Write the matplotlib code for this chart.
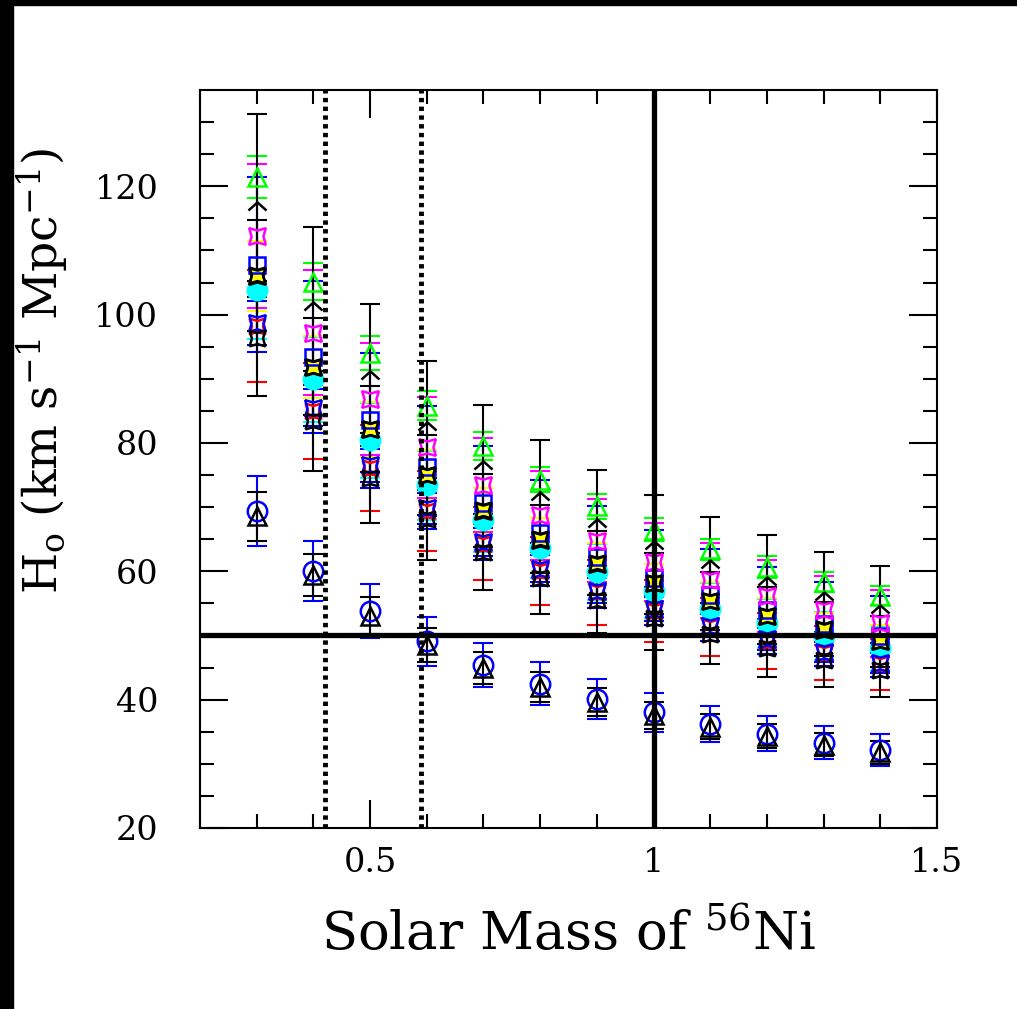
import matplotlib
matplotlib.use("Agg")
import matplotlib.pyplot as plt
from matplotlib.path import Path
from matplotlib.patches import Rectangle

# Solar mass of 56Ni (x positions)
mass = [0.3, 0.4, 0.5, 0.6, 0.7, 0.8, 0.9, 1.0, 1.1, 1.2, 1.3, 1.4]

# H0 values and error bars, one pair per supernova/model
h_cyan = [103.8, 89.9, 80.4, 73.4, 68.0, 63.6, 59.9, 56.9, 54.2, 51.9, 49.9, 48.0]
e_cyan = [7.6, 6.6, 5.9, 5.4, 5.0, 4.7, 4.4, 4.2, 4.0, 3.8, 3.7, 3.5]

h_red = [98.2, 85.0, 76.1, 69.4, 64.3, 60.1, 56.7, 53.8, 51.3, 49.1, 47.2, 45.5]
e_red = [8.7, 7.5, 6.7, 6.2, 5.7, 5.3, 5.0, 4.8, 4.5, 4.4, 4.2, 4.0]

h_yellow = [106.0, 91.8, 82.1, 75.0, 69.4, 64.9, 61.2, 58.1, 55.4, 53.0, 50.9, 49.1]
e_yellow = [5.5, 4.8, 4.3, 3.9, 3.6, 3.4, 3.2, 3.0, 2.9, 2.8, 2.6, 2.5]

h_bsq = [107.8, 93.4, 83.5, 76.2, 70.6, 66.0, 62.2, 59.0, 56.3, 53.9, 51.8, 49.9]
e_bsq = [13.6, 11.8, 10.5, 9.6, 8.9, 8.3, 7.9, 7.4, 7.1, 6.8, 6.5, 6.3]

h_mag = [112.2, 97.2, 86.9, 79.3, 73.5, 68.7, 64.8, 61.5, 58.6, 56.1, 53.9, 51.9]
e_mag = [11.2, 9.7, 8.7, 7.9, 7.3, 6.9, 6.5, 6.1, 5.8, 5.6, 5.4, 5.2]

h_green = [121.4, 105.1, 94.0, 85.8, 79.5, 74.3, 70.1, 66.5, 63.4, 60.7, 58.3, 56.2]
e_green = [3.3, 2.9, 2.6, 2.3, 2.2, 2.0, 1.9, 1.8, 1.7, 1.7, 1.6, 1.5]

h_bstar = [98.7, 85.5, 76.5, 69.8, 64.6, 60.4, 57.0, 54.1, 51.5, 49.4, 47.4, 45.7]
e_bstar = [3.4, 2.9, 2.6, 2.4, 2.2, 2.1, 2.0, 1.9, 1.8, 1.7, 1.6, 1.6]

h_kstar1 = [106.1, 91.9, 82.2, 75.0, 69.5, 65.0, 61.3, 58.1, 55.4, 53.1, 51.0, 49.1]
e_kstar1 = [8.7, 7.5, 6.7, 6.2, 5.7, 5.3, 5.0, 4.8, 4.5, 4.4, 4.2, 4.0]

h_kstar2 = [96.3, 83.4, 74.6, 68.1, 63.0, 58.9, 55.6, 52.7, 50.3, 48.1, 46.2, 44.6]
e_kstar2 = [9.0, 7.8, 7.0, 6.4, 5.9, 5.5, 5.2, 4.9, 4.7, 4.5, 4.3, 4.2]

h_caret = [117.0, 101.3, 90.6, 82.7, 76.6, 71.7, 67.6, 64.1, 61.1, 58.5, 56.2, 54.2]
e_caret = [14.2, 12.3, 11.0, 10.0, 9.3, 8.7, 8.2, 7.8, 7.4, 7.1, 6.8, 6.6]

h_bcirc = [69.4, 60.1, 53.8, 49.1, 45.4, 42.5, 40.1, 38.0, 36.2, 34.7, 33.3, 32.1]
e_bcirc = [5.4, 4.7, 4.2, 3.8, 3.5, 3.3, 3.1, 3.0, 2.8, 2.7, 2.6, 2.5]

h_ktri = [68.6, 59.4, 53.1, 48.5, 44.9, 42.0, 39.6, 37.6, 35.8, 34.3, 33.0, 31.8]
e_ktri = [3.8, 3.3, 2.9, 2.7, 2.5, 2.3, 2.2, 2.1, 2.0, 1.9, 1.8, 1.8]

# reference lines
h_ref = 50
m_ref = 1.0
m_dotted = [0.42, 0.59]

plt.rcParams['font.family'] = ['DejaVu Serif']
plt.rcParams['mathtext.fontset'] = 'dejavuserif'

caret = Path([(-1, -0.45), (0, 0.45), (1, -0.45)],
             [Path.MOVETO, Path.LINETO, Path.LINETO])
star4 = (4, 1, 45)


def draw(ax, h, e, color, marker, ms, face='none', edge=None):
    ax.errorbar(mass, h, yerr=e, fmt='none', ecolor=color, elinewidth=1.5,
                capsize=7.5, capthick=1.5, zorder=3)
    ax.plot(mass, h, linestyle='none', marker=marker, markersize=ms,
            markerfacecolor=face, markeredgecolor=edge or color,
            markeredgewidth=1.8, zorder=4)


fig = plt.figure(figsize=(10.17, 10.09), dpi=100)
fig.patch.set_facecolor('white')
ax = fig.add_axes([200 / 1017, 181 / 1009, 737 / 1017, 738 / 1009])

draw(ax, h_cyan, e_cyan, 'cyan', 'o', 14, face='cyan')
draw(ax, h_red, e_red, 'red', star4, 16)
draw(ax, h_yellow, e_yellow, '#ffff00', star4, 17, face='#ffff00', edge='black')
draw(ax, h_bsq, e_bsq, 'blue', 's', 11)
draw(ax, h_mag, e_mag, 'magenta', star4, 17)
draw(ax, h_green, e_green, '#00ff00', '^', 13)
draw(ax, h_bstar, e_bstar, 'blue', star4, 17)
draw(ax, h_kstar1, e_kstar1, 'black', star4, 16)
draw(ax, h_kstar2, e_kstar2, 'black', star4, 16)
draw(ax, h_caret, e_caret, 'black', caret, 13)
draw(ax, h_bcirc, e_bcirc, 'blue', 'o', 14)
draw(ax, h_ktri, e_ktri, 'black', '^', 13)

ax.axhline(h_ref, color='black', lw=3.8, zorder=5)
ax.axvline(m_ref, color='black', lw=3.8, zorder=5)
for m in m_dotted:
    ax.axvline(m, color='black', lw=3.5, linestyle=(0, (0.9, 0.9)), zorder=5)

ax.set_xlim(0.2, 1.5)
ax.set_ylim(20, 135)
ax.set_xticks([0.5, 1.0, 1.5])
ax.set_xticklabels(['0.5', '1', '1.5'])
ax.set_xticks([0.2, 0.3, 0.4, 0.6, 0.7, 0.8, 0.9, 1.1, 1.2, 1.3, 1.4], minor=True)
ax.set_yticks([20, 40, 60, 80, 100, 120])
ax.set_yticks(range(25, 135, 5), minor=True)

ax.tick_params(which='both', direction='in', top=True, right=True,
               width=1.5, labelsize=24)
ax.tick_params(which='major', length=20, pad=14)
ax.tick_params(which='minor', length=10)
ax.tick_params(axis='y', pad=30)
for s in ax.spines.values():
    s.set_linewidth(1.5)

ax.set_xlabel('Solar Mass of $^{56}$Ni', fontsize=38)
ax.set_ylabel(r'H$_\mathrm{o}$ (km s$^{-1}$ Mpc$^{-1}$)', fontsize=34)
ax.xaxis.set_label_coords(0.5, -0.11)
ax.yaxis.set_label_coords(-0.175, 0.62)

# black strips along the top and left edges of the image
fig.add_artist(Rectangle((0, 0), 13 / 1017, 1, transform=fig.transFigure,
                         color='black', zorder=10))
fig.add_artist(Rectangle((0, 1 - 5 / 1009), 1, 5 / 1009, transform=fig.transFigure,
                         color='black', zorder=10))

fig.savefig('out.png', dpi=100, facecolor='white')
